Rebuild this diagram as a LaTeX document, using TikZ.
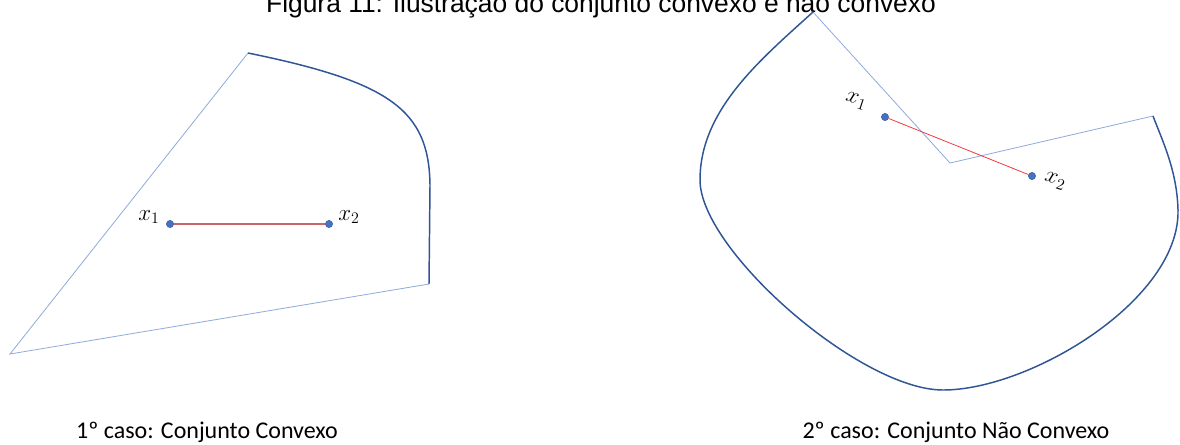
\documentclass[tikz,border=0pt]{standalone}
\usepackage{fontspec}
\setmainfont{Carlito}
\newfontfamily\titlefont{Liberation Sans}
\usetikzlibrary{positioning}
\definecolor{edgeblue}{HTML}{8FAADC}
\definecolor{curveblue}{HTML}{2F5597}
\definecolor{dotblue}{HTML}{4472C4}
\definecolor{segrose}{HTML}{C9666A}
\definecolor{segred}{HTML}{F03C3C}
\tikzset{
  edgeline/.style={draw=edgeblue, line width=0.6pt},
  curveline/.style={draw=curveblue, line width=1.1pt},
  ptdot/.style={
    circle,
    fill=dotblue,
    draw=curveblue,
    line width=0.3pt,
    inner sep=0pt,
    minimum size=5.5pt
  },
  ptlabel/.style={font=\fontsize{18}{20}\selectfont, inner sep=1pt},
  capt/.style={font=\fontsize{18}{21}\selectfont, inner sep=0pt},
  titletext/.style={font=\titlefont\fontsize{19.8}{23}\selectfont, inner sep=0pt, anchor=base}
}

\begin{document}
\begin{tikzpicture}[x=0.75pt, y=-0.75pt]
\useasboundingbox[fill=white] (0,0) rectangle (1180,444);

% title, cut at the top
\node[titletext] (title) at (601,12) {Figura 11: Ilustração do conjunto convexo e não convexo};

% first case
\coordinate (ltop) at (248,53);
\coordinate (lcorner) at (429,284);
\coordinate (lbottom) at (10,354);
\draw[edgeline] (lcorner) -- (lbottom) -- (ltop);
\draw[curveline] (ltop) .. controls (390,82) and (429,110) .. (430,185) -- (lcorner);

\node[ptdot] (lx1) at (170,224) {};
\node[ptdot] (lx2) at (329,224) {};
\draw[segrose, line width=0.8pt] (lx1) -- (lx2);
\node[ptlabel] (lx1lab) at (149,217) {$x_1$};
\node[ptlabel] (lx2lab) at (349,217) {$x_2$};

% second case
\coordinate (rtop) at (813,12);
\coordinate (rnotch) at (950,163);
\coordinate (rright) at (1153,116);
\draw[edgeline] (rtop) -- (rnotch) -- (rright);
\draw[curveline] (rtop) .. controls (760,60) and (700,110) .. (700,180)
  .. controls (700,250) and (860,390) .. (943,390)
  .. controls (1030,390) and (1180,300) .. (1178,210)
  .. controls (1177,170) and (1162,140) .. (rright);

\node[ptdot] (rx1) at (885,117) {};
\node[ptdot] (rx2) at (1032,176) {};
\draw[segred, line width=0.6pt] (rx1) -- (rx2);
\node[ptlabel, rotate=-18] (rx1lab) at (856,101) {$x_1$};
\node[ptlabel, rotate=-18] (rx2lab) at (1055,181) {$x_2$};

% captions
\node[capt] (captl) at (207,432) {1º caso: Conjunto Convexo};
\node[capt] (captr) at (956,432) {2º caso: Conjunto Não Convexo};
\end{tikzpicture}
\end{document}
